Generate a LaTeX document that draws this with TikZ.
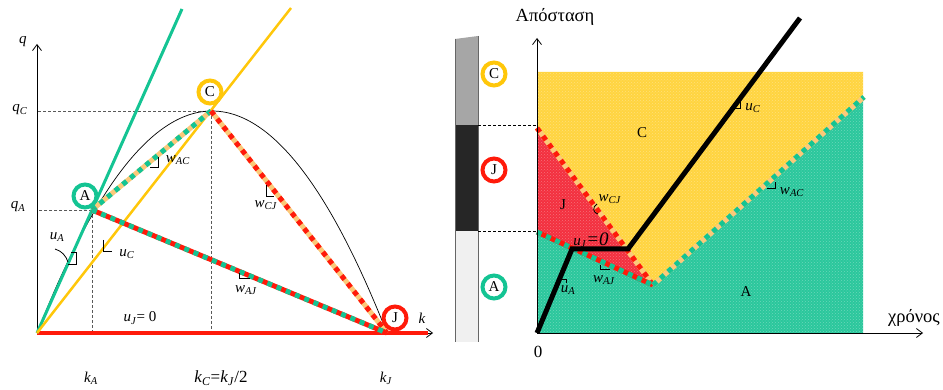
\documentclass[tikz,border=0pt]{standalone}
\usepackage{fontspec}
\setmainfont{Liberation Serif}
\usetikzlibrary{patterns,arrows.meta}
\definecolor{cgreen}{HTML}{14C493}
\definecolor{cyellow}{HTML}{FFC70A}
\definecolor{cred}{HTML}{FF1A0A}
\definecolor{corange}{HTML}{FBC97A}
\definecolor{fyellow}{HTML}{FFD440}
\definecolor{fred}{HTML}{F3303F}
\definecolor{fgreen}{HTML}{2BC79C}
\newcommand{\lab}[2]{\textit{#1}\textsubscript{\textit{#2}}}
\begin{document}
\begin{tikzpicture}[x=1pt,y=-1pt,font=\fontsize{15}{17}\selectfont,
  circ/.style={circle,draw,line width=4pt,minimum size=23pt,inner sep=0pt,fill=white},
  guide/.style={densely dashed,gray!70!black,line width=0.5pt},
  slopemark/.style={line width=0.8pt,black},
  axisarrow/.style={-{Straight Barb[length=6pt,width=9pt]},line width=0.8pt},
  twotone/.style={line width=5pt},
  overdash/.style={line width=5pt,dash pattern=on 5pt off 5pt},
  txt/.style={inner sep=1pt},
  bigtxt/.style={inner sep=1pt,font=\fontsize{18.5}{20}\selectfont}]
\useasboundingbox (0,0) rectangle (943,390);
% ---------------- left diagram ----------------
\coordinate (O) at (37,333);
\coordinate (A) at (92,210);
\coordinate (C) at (211,111);
\coordinate (J) at (387,333);
\coordinate (qtop) at (37,44);
\coordinate (kend) at (433,333);
\coordinate (redend) at (428,333);
\coordinate (gEnd) at (182,9);
\coordinate (yEnd) at (291,8);
\draw[guide] (A) -- (A |- O);
\draw[guide] (A) -- (A -| O);
\draw[guide] (C) -- (C |- O);
\draw[guide] (C) -- (C -| O);
\draw[axisarrow] (O) -- (qtop);
\draw[line width=0.7pt] plot[domain=37:387,samples=80,smooth] (\x,{333-222*(1-((\x-212)/175)^2)});
\draw[axisarrow] (O) -- (kend);
\draw[cred,line width=4pt] (O) -- (redend);
\draw[cgreen,line width=3pt] (O) -- (gEnd);
\draw[cyellow,line width=2.5pt] (O) -- (yEnd);
\draw[twotone,corange] (A) -- (C);
\draw[overdash,cgreen] (A) -- (C);
\draw[twotone,corange] (C) -- (J);
\draw[overdash,cred] (C) -- (J);
\draw[twotone,cred] (A) -- (J);
\draw[overdash,cgreen] (A) -- (J);
\node[circ,draw=cgreen] (cA) at (85,196) {A};
\node[circ,draw=cyellow] (cC) at (210,92) {C};
\node[circ,draw=cred] (cJ) at (395,318) {J};
% labels
\node[txt] (lq) at (23,42) {\textit{q}};
\node[txt] (lqC) at (20,110) {\lab{q}{C}};
\node[txt] (lqA) at (18,207) {\lab{q}{A}};
\node[txt] (lk) at (422,318) {\textit{k}};
\node[txt] (lkA) at (91,378) {\lab{k}{A}};
\node[txt,font=\fontsize{17}{19}\selectfont] (lkC) at (221,378) {\lab{k}{C}=\lab{k}{J}/2};
\node[txt] (lkJ) at (386,378) {\lab{k}{J}};
\node[txt] (luJ) at (140,318) {\lab{u}{J}= 0};
\node[txt] (lwAC) at (178,160) {\lab{w}{AC}};
\node[txt] (luC) at (127,254) {\lab{u}{C}};
\node[txt] (luA) at (57,237) {\lab{u}{A}};
\node[txt] (lwCJ) at (266,205) {\lab{w}{CJ}};
\node[txt] (lwAJ) at (246,290) {\lab{w}{AJ}};
% slope markers
\draw[slopemark] (150,167) -- (158,167) -- (158,157);
\draw[slopemark] (103,240) -- (103,251) -- (112,251);
\draw[slopemark] (71,252) -- (76,252) -- (76,264) -- (68,264);
\draw[slopemark] (55,249) .. controls (62,251) and (66,256) .. (68,262);
\draw[slopemark] (266,185) -- (266,196) -- (274,196);
\draw[slopemark] (239,273) -- (239,278) -- (250,278);
% ---------------- middle bar ----------------
\fill[black!35] (455,39) -- (478,36) -- (478,125) -- (455,125) -- cycle;
\fill[black!85] (455,125) rectangle (478,231);
\fill[black!6] (455,231) rectangle (478,342);
\draw[gray!80!black,line width=0.8pt] (455,39) -- (455,342);
\draw[gray!80!black,line width=0.8pt] (478,36) -- (478,342);
\node[circ,draw=cyellow] (bC) at (494,74) {C};
\node[circ,draw=cred] (bJ) at (494,170) {J};
\node[circ,draw=cgreen] (bA) at (494,287) {A};
% ---------------- right diagram ----------------
\coordinate (O2) at (537,333);
\coordinate (P1) at (537,128);
\coordinate (P2) at (537,232);
\coordinate (T) at (653,285);
\coordinate (E) at (864,97);
\coordinate (TL) at (537,72);
\coordinate (TR) at (863,72);
\coordinate (BR) at (863,333);
\coordinate (vtop) at (537,38);
\coordinate (hend) at (923,333);
\coordinate (h1) at (478,125);
\coordinate (h1e) at (537,125);
\coordinate (h2) at (478,231);
\coordinate (h2e) at (537,231);
\fill[fyellow] (TL) -- (TR) -- (863,97) -- (T) -- (P1) -- cycle;
\fill[fred] (P1) -- (T) -- (P2) -- cycle;
\fill[fgreen] (P2) -- (T) -- (863,97) -- (BR) -- (O2) -- cycle;
\fill[pattern=crosshatch dots,pattern color=white,opacity=0.3] (TL) -- (TR) -- (BR) -- (O2) -- cycle;
\draw[densely dashed,line width=0.6pt] (h1) -- (h1e);
\draw[densely dashed,line width=0.6pt] (h2) -- (h2e);
\draw[twotone,corange] (P1) -- (T);
\draw[overdash,cred] (P1) -- (T);
\draw[twotone,cred] (P2) -- (T);
\draw[overdash,cgreen] (P2) -- (T);
\draw[twotone,corange] (T) -- (E);
\draw[overdash,cgreen] (T) -- (E);
\draw[axisarrow] (O2) -- (vtop);
\draw[axisarrow] (O2) -- (hend);
\coordinate (k1) at (572,249);
\coordinate (k2) at (628,249);
\coordinate (k3) at (800,18);
\draw[line width=5pt,line join=miter] (O2) -- (k1) -- (k2) -- (k3);
\node[bigtxt] (lapo) at (555,17) {Απόσταση};
\node[bigtxt] (lxr) at (914,318) {χρόνος};
\node[txt,font=\fontsize{17}{19}\selectfont] (l0) at (538,352) {0};
\node[txt] (rC) at (642,133) {C};
\node[txt] (rJ) at (563,205) {J};
\node[txt] (rA) at (746,292) {A};
\node[txt] (ruC) at (753,108) {\lab{u}{C}};
\node[txt] (rwAC) at (792,192) {\lab{w}{AC}};
\node[txt] (rwCJ) at (610,199) {\lab{w}{CJ}};
\node[txt] (ruJ) at (591,240) {\lab{u}{J}{\fontsize{19}{20}\selectfont\textit{=0}}};
\node[txt] (rwAJ) at (604,280) {\lab{w}{AJ}};
\node[txt] (ruA) at (568,290) {\lab{u}{A}};
\draw[slopemark] (735,108) -- (740,108) -- (740,102);
\draw[slopemark] (767,188) -- (775,188) -- (775,182);
\draw[slopemark] (597,204) .. controls (592,207) and (593,213) .. (598,214);
\draw[slopemark] (600,265) -- (600,269) -- (610,269);
\draw[slopemark] (562,279) -- (566,279) -- (566,283);
\end{tikzpicture}
\end{document}
